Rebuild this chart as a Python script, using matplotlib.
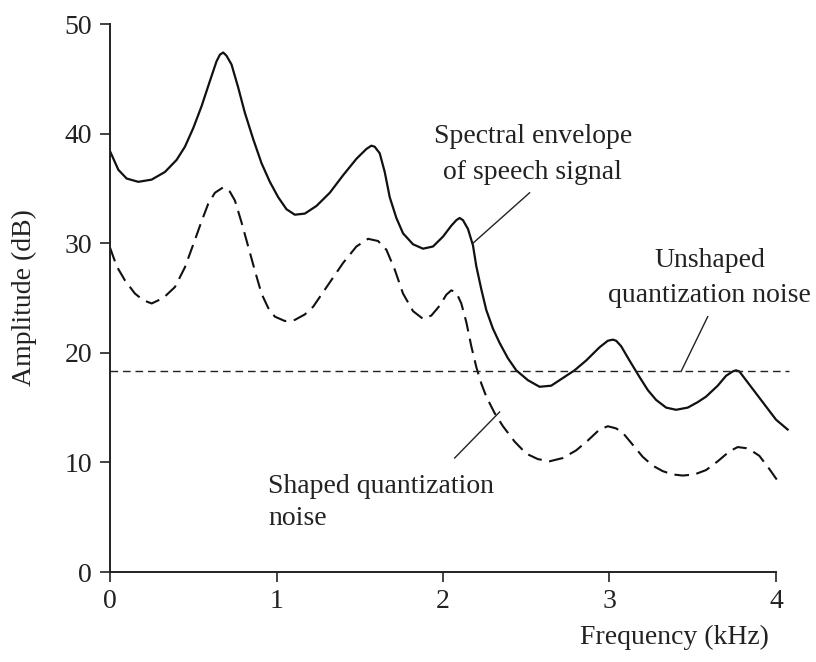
import matplotlib
matplotlib.use("Agg")
import matplotlib.pyplot as plt

plt.rcParams['font.family'] = ['Liberation Serif', 'DejaVu Serif']

# Spectral envelope of speech signal (solid)
env_freq = [0.00, 0.05, 0.10, 0.17, 0.25, 0.33, 0.40, 0.45, 0.50, 0.55, 0.60, 0.64, 0.66, 0.68, 0.70,
            0.73, 0.77, 0.81, 0.86, 0.91, 0.96, 1.01, 1.06, 1.11, 1.17, 1.24, 1.32, 1.40, 1.48,
            1.54, 1.57, 1.59, 1.62, 1.65, 1.68, 1.72, 1.76, 1.82, 1.88, 1.94, 2.00, 2.05, 2.08, 2.10, 2.12,
            2.15, 2.18, 2.20, 2.23, 2.26, 2.30, 2.34, 2.39, 2.44, 2.51, 2.58, 2.65, 2.72, 2.79,
            2.86, 2.94, 2.99, 3.02, 3.04, 3.07, 3.12, 3.18, 3.23, 3.28, 3.34, 3.40, 3.47, 3.53, 3.58,
            3.65, 3.70, 3.74, 3.76, 3.78, 3.82, 3.88, 3.94, 4.00, 4.07]
env_db = [38.4, 36.7, 35.9, 35.6, 35.8, 36.5, 37.6, 38.8, 40.5, 42.5, 44.8, 46.6, 47.2, 47.4, 47.1,
          46.3, 44.2, 41.9, 39.5, 37.3, 35.6, 34.2, 33.1, 32.6, 32.7, 33.4, 34.6, 36.2, 37.7,
          38.6, 38.9, 38.8, 38.2, 36.5, 34.2, 32.3, 30.9, 29.9, 29.5, 29.7, 30.6, 31.6, 32.1, 32.3, 32.1,
          31.3, 29.8, 27.9, 25.8, 23.9, 22.2, 20.9, 19.5, 18.4, 17.5, 16.9, 17.0, 17.7, 18.4,
          19.3, 20.5, 21.1, 21.2, 21.1, 20.6, 19.3, 17.8, 16.6, 15.7, 15.0, 14.8, 15.0, 15.5, 16.0,
          17.0, 17.9, 18.3, 18.4, 18.3, 17.5, 16.3, 15.1, 13.9, 13.0]

# Shaped quantization noise (long dashes)
shaped_freq = [0.00, 0.04, 0.09, 0.15, 0.20, 0.25, 0.32, 0.39, 0.45, 0.51, 0.55, 0.59, 0.63, 0.68,
               0.72, 0.75, 0.79, 0.83, 0.87, 0.91, 0.95, 0.99, 1.05, 1.11, 1.17, 1.22, 1.31, 1.40,
               1.48, 1.55, 1.61, 1.66, 1.71, 1.76, 1.82, 1.88, 1.93, 1.98, 2.02, 2.05, 2.08, 2.11,
               2.14, 2.17, 2.20, 2.23, 2.26, 2.31, 2.36, 2.43, 2.50, 2.57, 2.64, 2.72, 2.80, 2.87,
               2.94, 2.99, 3.04, 3.08, 3.14, 3.20, 3.26, 3.32, 3.38, 3.44, 3.51, 3.58, 3.65, 3.72,
               3.77, 3.82, 3.86, 3.90, 3.96, 4.02]
shaped_db = [29.6, 27.9, 26.6, 25.4, 24.8, 24.5, 25.0, 26.0, 27.8, 30.3, 32.0, 33.6, 34.6, 35.1,
             34.7, 33.9, 31.9, 29.7, 27.5, 25.4, 24.1, 23.3, 22.9, 23.0, 23.5, 24.2, 26.2, 28.2,
             29.7, 30.4, 30.2, 29.4, 27.6, 25.4, 23.8, 23.1, 23.4, 24.3, 25.3, 25.7, 25.5, 24.5,
             22.8, 20.6, 18.7, 17.2, 16.0, 14.5, 13.3, 11.9, 10.8, 10.3, 10.1, 10.4, 11.1, 12.0,
             13.0, 13.3, 13.1, 12.7, 11.6, 10.5, 9.7, 9.2, 8.9, 8.8, 8.9, 9.3, 10.1, 11.0,
             11.4, 11.3, 11.0, 10.6, 9.4, 8.1]

# Unshaped quantization noise (flat level)
unshaped_freq = [0.0, 4.08]
unshaped_db = [18.3, 18.3]

x_ticks = [0, 1, 2, 3, 4]
y_ticks = [0, 10, 20, 30, 40, 50]

fig = plt.figure(figsize=(8.16, 6.62), dpi=100)
ax = fig.add_axes([110/816, 1 - 572/662, 4.15*166.5/816, 548/662])

ax.plot(env_freq, env_db, color='#111111', lw=1.6, solid_joinstyle='round')
ax.plot(shaped_freq, shaped_db, color='#111111', lw=1.5, linestyle=(0, (7, 3.6)))
ax.plot(unshaped_freq, unshaped_db, color='#222222', lw=1.0, linestyle=(0, (5.5, 3.5)))

# leader lines
ax.plot([2.52, 2.18], [34.6, 30.0], color='#222222', lw=1.0)
ax.plot([3.59, 3.43], [23.3, 18.3], color='#222222', lw=1.0)
ax.plot([2.07, 2.34], [10.4, 14.6], color='#222222', lw=1.0)

fs = 20
ax.text(2.54, 39.1, "Spectral envelope", ha='center', va='baseline', fontsize=fs, color='#222222')
ax.text(2.54, 35.9, "of speech signal", ha='center', va='baseline', fontsize=fs, color='#222222')
ax.text(3.60, 27.8, "Unshaped", ha='center', va='baseline', fontsize=fs, color='#222222')
ax.text(3.60, 24.6, "quantization noise", ha='center', va='baseline', fontsize=fs, color='#222222')
ax.text(0.95, 7.2, "Shaped quantization", ha='left', va='baseline', fontsize=fs, color='#222222')
ax.text(0.95, 4.3, "noise", ha='left', va='baseline', fontsize=fs, color='#222222')

ax.set_xlim(0, 4.15)
ax.set_ylim(0, 50)
ax.set_xticks(x_ticks)
ax.set_yticks(y_ticks)
ax.set_xticklabels([str(t) for t in x_ticks])
ax.set_yticklabels([str(t) for t in y_ticks])

for s in ['top', 'right']:
    ax.spines[s].set_visible(False)
ax.spines['bottom'].set_bounds(0, 4)
for s in ['left', 'bottom']:
    ax.spines[s].set_linewidth(1.4)
    ax.spines[s].set_color('#222222')
ax.tick_params(axis='both', direction='out', length=7, width=1.2, colors='#222222',
               labelsize=fs, labelcolor='#222222')
ax.tick_params(axis='x', pad=5)
ax.tick_params(axis='y', pad=6)

ax.set_ylabel("Amplitude (dB)", fontsize=fs, color='#222222')
ax.yaxis.set_label_coords(-0.105, 25/50)
fig.text(674/816, 1 - 637/662, "Frequency (kHz)", ha='center', va='center', fontsize=fs, color='#222222')

fig.savefig("out.png", dpi=100)
